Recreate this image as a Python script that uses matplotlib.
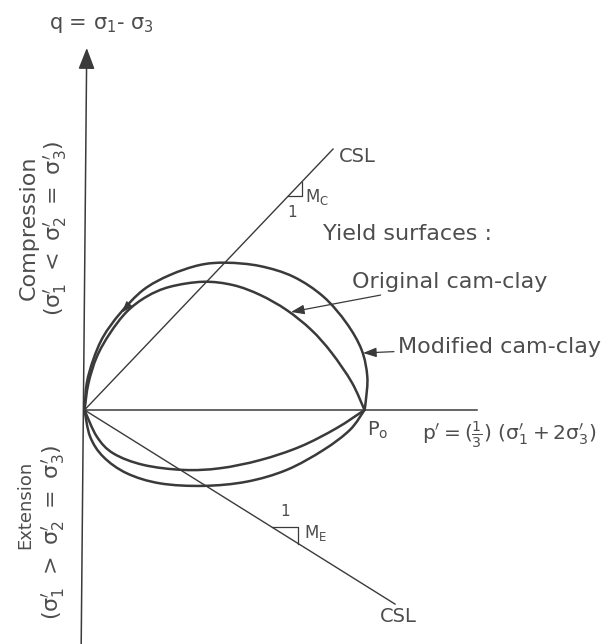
import numpy as np
from matplotlib import pyplot as plt
from matplotlib.path import Path
from matplotlib.patches import PathPatch

# yield surfaces in q-p' space, normalised by p0 (p0 = 1)
orig_comp_p = [0, 0.014, 0.044, 0.091, 0.151, 0.222, 0.305, 0.424, 0.531, 0.627, 0.722, 0.81, 0.882, 0.955, 1.0]
orig_comp_q = [0, 0.095, 0.19, 0.274, 0.351, 0.405, 0.44, 0.458, 0.446, 0.411, 0.357, 0.286, 0.205, 0.098, 0]
mod_comp_p = [0, 0.008, 0.031, 0.067, 0.127, 0.21, 0.305, 0.4125, 0.508, 0.627, 0.746, 0.853, 0.936, 0.99, 1.01, 1.005, 1.0]
mod_comp_q = [0, 0.095, 0.179, 0.262, 0.345, 0.429, 0.482, 0.518, 0.526, 0.514, 0.476, 0.405, 0.31, 0.214, 0.119, 0.036, 0]
orig_ext_p = [0, 0.044, 0.103, 0.21, 0.353, 0.484, 0.627, 0.77, 0.9, 1.0]
orig_ext_q = [0, -0.095, -0.155, -0.196, -0.214, -0.208, -0.179, -0.131, -0.065, 0]
mod_ext_p = [0, 0.02, 0.067, 0.151, 0.27, 0.424, 0.579, 0.722, 0.853, 0.948, 1.0]
mod_ext_q = [0, -0.095, -0.167, -0.226, -0.262, -0.271, -0.256, -0.214, -0.143, -0.071, 0]

# critical state lines
M_C = 1.05
M_E = 0.625
csl_comp_end = 0.8875
csl_ext_end = 1.109
p_axis_end = 1.40

ink = '#3a3a3a'
txt = '#4d4d4d'

fig = plt.figure(figsize=(6.10, 6.44), dpi=100)
ax = fig.add_axes((0, 0, 1, 1))
scale = 280.0
ax.set_xlim(-84.5/scale, (610-84.5)/scale)
ax.set_ylim((410-644)/scale, 410/scale)
ax.axis('off')


def smooth(ax, p, q, lw=1.8):
    # catmull-rom through the traced points, drawn as bezier segments
    pts = np.column_stack([p, q])
    ext = np.vstack([pts[0], pts, pts[-1]])
    verts = [pts[0]]
    codes = [Path.MOVETO]
    for i in range(1, len(ext)-2):
        a, b, c, d = ext[i-1], ext[i], ext[i+1], ext[i+2]
        verts += [b + (c-a)/6, c - (d-b)/6, c]
        codes += [Path.CURVE4]*3
    ax.add_patch(PathPatch(Path(verts, codes), fill=False, lw=lw, ec=ink, capstyle='round'))


smooth(ax, orig_comp_p, orig_comp_q)
smooth(ax, mod_comp_p, mod_comp_q)
smooth(ax, orig_ext_p, orig_ext_q)
smooth(ax, mod_ext_p, mod_ext_q)

# axes
ax.plot([0, p_axis_end], [0, 0], color=ink, lw=1.1)
ax.annotate('', xy=(0.008, 1.293), xytext=(-0.012, (410-650)/scale),
            arrowprops=dict(arrowstyle='-|>,head_length=0.65,head_width=0.25',
                            mutation_scale=20, lw=1.1, color=ink, shrinkA=0, shrinkB=0))

# CSL lines with slope triangles
ax.plot([0, csl_comp_end], [0, M_C*csl_comp_end], color=ink, lw=1.0)
ax.plot([0, csl_ext_end], [0, -M_E*csl_ext_end], color=ink, lw=1.0)
tc, wc = 0.727, 0.05
ax.plot([tc, tc+wc, tc+wc], [M_C*tc, M_C*tc, M_C*(tc+wc)], color=ink, lw=0.9)
te, we = 0.669, 0.095
ax.plot([te, te+we, te+we], [-M_E*te, -M_E*te, -M_E*(te+we)], color=ink, lw=0.9)

# small arrow mark on the left of the outer curve
ax.annotate('', xy=(0.133, 0.348), xytext=(0.16, 0.378),
            arrowprops=dict(arrowstyle='-|>,head_length=0.5,head_width=0.18', mutation_scale=14,
                            lw=0.8, color=ink, shrinkA=0, shrinkB=0))

s1 = r"\mathrm{\sigma}_1^{\prime}"
s2 = r"\mathrm{\sigma}_2^{\prime}"
s3 = r"\mathrm{\sigma}_3^{\prime}"

fs = 16
ax.text(0.06, 1.375, r"q = $\mathrm{\sigma_1}$- $\mathrm{\sigma_3}$", fontsize=15, color=txt,
        ha='center', va='center')
ax.text(-0.2, 0.65, 'Compression', fontsize=fs, color=txt, rotation=90, ha='center', va='center')
ax.text(-0.105, 0.65, "$(" + s1 + r"\ <\ " + s2 + r"\ =\ " + s3 + ")$", fontsize=fs,
        color=txt, rotation=90, ha='center', va='center')
ax.text(-0.2125, -0.339, 'Extension', fontsize=13, color=txt, rotation=90, ha='center', va='center')
ax.text(-0.1125, -0.436, "$(" + s1 + r"\ >\ " + s2 + r"\ =\ " + s3 + ")$", fontsize=fs,
        color=txt, rotation=90, ha='center', va='center')

ax.text(0.973, 0.904, 'CSL', fontsize=14, color=txt, ha='center', va='center')
ax.text(1.12, -0.739, 'CSL', fontsize=14, color=txt, ha='center', va='center')
ax.text(0.74, 0.704, '1', fontsize=11, color=txt, ha='center', va='center')
ax.text(0.7875, 0.76, r"$\mathrm{M_C}$", fontsize=12, color=txt, ha='left', va='center')
ax.text(0.716, -0.364, '1', fontsize=11, color=txt, ha='center', va='center')
ax.text(0.784, -0.44, r"$\mathrm{M_E}$", fontsize=12, color=txt, ha='left', va='center')

ax.text(0.852, 0.629, 'Yield surfaces :', fontsize=fs, color=txt, ha='left', va='center')
ax.annotate('Original cam-clay', xy=(0.7375, 0.35), xytext=(0.955, 0.457), fontsize=fs, color=txt,
            ha='left', va='center',
            arrowprops=dict(arrowstyle='-|>,head_length=0.5,head_width=0.18', mutation_scale=16,
                            lw=0.9, color=ink, shrinkA=1, shrinkB=0))
ax.annotate('Modified cam-clay', xy=(0.995, 0.2036), xytext=(1.12, 0.225), fontsize=fs, color=txt,
            ha='left', va='center',
            arrowprops=dict(arrowstyle='-|>,head_length=0.5,head_width=0.18', mutation_scale=16,
                            lw=0.9, color=ink, shrinkA=1, shrinkB=0))

ax.text(1.009, -0.071, r"$\mathrm{P_o}$", fontsize=14, color=txt, ha='left', va='center')
ax.text(1.205, -0.089,
        r"$\mathrm{p}^{\prime} = (\frac{1}{3})\ (" + s1 + " + 2" + s3 + ")$",
        fontsize=14.5, color=txt, ha='left', va='center')

plt.savefig('out.png')
